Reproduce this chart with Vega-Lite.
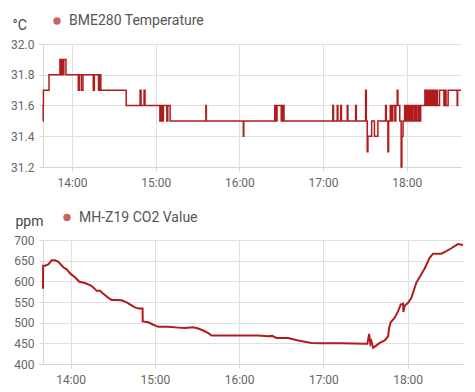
{
  "padding": {"left": 10, "top": 14, "right": 5, "bottom": 5},
  "spacing": 22,
  "config": {
    "font": "Roboto",
    "view": {"stroke": null},
    "axis": {
      "gridColor": "#e0e0e0",
      "domainColor": "#d6d6d6",
      "tickColor": "#d6d6d6",
      "tickSize": 4,
      "labelColor": "#666",
      "labelFontSize": 12
    },
    "legend": {"labelFontSize": 14, "labelColor": "#555"}
  },
  "vconcat": [
    {
      "width": 418,
      "height": 123,
      "data": {"values": [
      {"time": "2021-06-01T13:39:12", "value": 31.5},
      {"time": "2021-06-01T13:39:20", "value": 31.6},
      {"time": "2021-06-01T13:39:30", "value": 31.7},
      {"time": "2021-06-01T13:43:30", "value": 31.8},
      {"time": "2021-06-01T13:51:20", "value": 31.9},
      {"time": "2021-06-01T13:52:00", "value": 31.8},
      {"time": "2021-06-01T13:52:40", "value": 31.9},
      {"time": "2021-06-01T13:53:30", "value": 31.8},
      {"time": "2021-06-01T13:54:10", "value": 31.9},
      {"time": "2021-06-01T13:55:40", "value": 31.8},
      {"time": "2021-06-01T14:04:30", "value": 31.7},
      {"time": "2021-06-01T14:05:10", "value": 31.8},
      {"time": "2021-06-01T14:06:40", "value": 31.7},
      {"time": "2021-06-01T14:07:50", "value": 31.8},
      {"time": "2021-06-01T14:15:15", "value": 31.7},
      {"time": "2021-06-01T14:16:00", "value": 31.8},
      {"time": "2021-06-01T14:19:00", "value": 31.7},
      {"time": "2021-06-01T14:19:40", "value": 31.8},
      {"time": "2021-06-01T14:20:40", "value": 31.7},
      {"time": "2021-06-01T14:38:50", "value": 31.6},
      {"time": "2021-06-01T14:48:50", "value": 31.7},
      {"time": "2021-06-01T14:49:30", "value": 31.6},
      {"time": "2021-06-01T14:51:40", "value": 31.7},
      {"time": "2021-06-01T14:52:20", "value": 31.6},
      {"time": "2021-06-01T15:03:00", "value": 31.5},
      {"time": "2021-06-01T15:04:00", "value": 31.6},
      {"time": "2021-06-01T15:04:40", "value": 31.5},
      {"time": "2021-06-01T15:05:30", "value": 31.6},
      {"time": "2021-06-01T15:08:00", "value": 31.5},
      {"time": "2021-06-01T15:08:40", "value": 31.6},
      {"time": "2021-06-01T15:10:20", "value": 31.5},
      {"time": "2021-06-01T15:36:00", "value": 31.6},
      {"time": "2021-06-01T15:36:20", "value": 31.5},
      {"time": "2021-06-01T16:02:50", "value": 31.4},
      {"time": "2021-06-01T16:03:10", "value": 31.5},
      {"time": "2021-06-01T16:25:20", "value": 31.6},
      {"time": "2021-06-01T16:26:00", "value": 31.5},
      {"time": "2021-06-01T16:27:00", "value": 31.6},
      {"time": "2021-06-01T16:30:00", "value": 31.5},
      {"time": "2021-06-01T16:31:00", "value": 31.6},
      {"time": "2021-06-01T16:32:00", "value": 31.5},
      {"time": "2021-06-01T17:07:00", "value": 31.6},
      {"time": "2021-06-01T17:07:30", "value": 31.5},
      {"time": "2021-06-01T17:10:10", "value": 31.6},
      {"time": "2021-06-01T17:10:40", "value": 31.5},
      {"time": "2021-06-01T17:12:40", "value": 31.6},
      {"time": "2021-06-01T17:13:10", "value": 31.5},
      {"time": "2021-06-01T17:17:20", "value": 31.6},
      {"time": "2021-06-01T17:17:50", "value": 31.5},
      {"time": "2021-06-01T17:23:20", "value": 31.6},
      {"time": "2021-06-01T17:23:50", "value": 31.5},
      {"time": "2021-06-01T17:30:30", "value": 31.7},
      {"time": "2021-06-01T17:31:00", "value": 31.5},
      {"time": "2021-06-01T17:31:40", "value": 31.3},
      {"time": "2021-06-01T17:32:10", "value": 31.4},
      {"time": "2021-06-01T17:34:50", "value": 31.5},
      {"time": "2021-06-01T17:36:50", "value": 31.4},
      {"time": "2021-06-01T17:39:20", "value": 31.5},
      {"time": "2021-06-01T17:44:50", "value": 31.6},
      {"time": "2021-06-01T17:45:20", "value": 31.5},
      {"time": "2021-06-01T17:46:30", "value": 31.3},
      {"time": "2021-06-01T17:47:00", "value": 31.5},
      {"time": "2021-06-01T17:48:10", "value": 31.6},
      {"time": "2021-06-01T17:49:00", "value": 31.5},
      {"time": "2021-06-01T17:50:00", "value": 31.6},
      {"time": "2021-06-01T17:51:30", "value": 31.5},
      {"time": "2021-06-01T17:52:10", "value": 31.6},
      {"time": "2021-06-01T17:53:10", "value": 31.7},
      {"time": "2021-06-01T17:53:40", "value": 31.6},
      {"time": "2021-06-01T17:55:00", "value": 31.5},
      {"time": "2021-06-01T17:56:00", "value": 31.2},
      {"time": "2021-06-01T17:56:30", "value": 31.4},
      {"time": "2021-06-01T17:57:20", "value": 31.5},
      {"time": "2021-06-01T17:58:30", "value": 31.6},
      {"time": "2021-06-01T17:59:30", "value": 31.5},
      {"time": "2021-06-01T18:00:30", "value": 31.6},
      {"time": "2021-06-01T18:01:30", "value": 31.5},
      {"time": "2021-06-01T18:02:30", "value": 31.6},
      {"time": "2021-06-01T18:03:20", "value": 31.5},
      {"time": "2021-06-01T18:04:20", "value": 31.6},
      {"time": "2021-06-01T18:05:30", "value": 31.5},
      {"time": "2021-06-01T18:06:30", "value": 31.6},
      {"time": "2021-06-01T18:07:20", "value": 31.5},
      {"time": "2021-06-01T18:08:30", "value": 31.6},
      {"time": "2021-06-01T18:09:10", "value": 31.5},
      {"time": "2021-06-01T18:10:00", "value": 31.6},
      {"time": "2021-06-01T18:13:00", "value": 31.7},
      {"time": "2021-06-01T18:14:00", "value": 31.6},
      {"time": "2021-06-01T18:15:00", "value": 31.7},
      {"time": "2021-06-01T18:16:00", "value": 31.6},
      {"time": "2021-06-01T18:17:00", "value": 31.7},
      {"time": "2021-06-01T18:18:00", "value": 31.6},
      {"time": "2021-06-01T18:19:00", "value": 31.7},
      {"time": "2021-06-01T18:20:00", "value": 31.6},
      {"time": "2021-06-01T18:21:00", "value": 31.7},
      {"time": "2021-06-01T18:22:00", "value": 31.6},
      {"time": "2021-06-01T18:23:30", "value": 31.7},
      {"time": "2021-06-01T18:26:40", "value": 31.6},
      {"time": "2021-06-01T18:27:20", "value": 31.7},
      {"time": "2021-06-01T18:28:10", "value": 31.6},
      {"time": "2021-06-01T18:29:40", "value": 31.7},
      {"time": "2021-06-01T18:36:10", "value": 31.6},
      {"time": "2021-06-01T18:36:30", "value": 31.7},
      {"time": "2021-06-01T18:38:54", "value": 31.7}
      ]},
      "mark": {"type": "line", "interpolate": "step-after", "strokeWidth": 1.5},
      "encoding": {
        "x": {
          "field": "time", "type": "temporal",
          "axis": {"title": null, "format": "%H:%M", "tickCount": 5, "labelPadding": 6}
        },
        "y": {
          "field": "value", "type": "quantitative",
          "scale": {"domain": [31.2, 32.0], "zero": false},
          "axis": {
            "values": [31.2, 31.4, 31.6, 31.8, 32.0], "format": ".1f", "labelPadding": 5,
            "title": "°C", "titleAngle": 0, "titleAlign": "left", "titleBaseline": "alphabetic",
            "titleX": -31, "titleY": -15, "titleFontSize": 14, "titleFontWeight": "normal", "titleColor": "#444"
          }
        },
        "color": {
          "datum": "BME280 Temperature",
          "scale": {"range": ["#b01c1c"]},
          "legend": {
            "title": null, "orient": "none", "legendX": 7, "legendY": -30, "padding": 0,
            "symbolType": "circle", "symbolSize": 55, "labelOffset": 5,
            "symbolFillColor": "#c86464", "symbolStrokeWidth": 0
          }
        }
      }
    },
    {
      "width": 420,
      "height": 124,
      "data": {"values": [
      {"time": "2021-06-01T13:40:18", "value": 582},
      {"time": "2021-06-01T13:40:24", "value": 638},
      {"time": "2021-06-01T13:41:42", "value": 638},
      {"time": "2021-06-01T13:44:06", "value": 641},
      {"time": "2021-06-01T13:46:30", "value": 651},
      {"time": "2021-06-01T13:48:48", "value": 651},
      {"time": "2021-06-01T13:51:15", "value": 647},
      {"time": "2021-06-01T13:54:48", "value": 634},
      {"time": "2021-06-01T13:57:09", "value": 629},
      {"time": "2021-06-01T14:00:00", "value": 618},
      {"time": "2021-06-01T14:03:04", "value": 610},
      {"time": "2021-06-01T14:06:11", "value": 599},
      {"time": "2021-06-01T14:10:11", "value": 596},
      {"time": "2021-06-01T14:13:44", "value": 591},
      {"time": "2021-06-01T14:15:40", "value": 587},
      {"time": "2021-06-01T14:18:30", "value": 577},
      {"time": "2021-06-01T14:20:51", "value": 577},
      {"time": "2021-06-01T14:23:16", "value": 570},
      {"time": "2021-06-01T14:26:50", "value": 560},
      {"time": "2021-06-01T14:29:11", "value": 555},
      {"time": "2021-06-01T14:32:44", "value": 555},
      {"time": "2021-06-01T14:36:18", "value": 554},
      {"time": "2021-06-01T14:39:51", "value": 549},
      {"time": "2021-06-01T14:43:25", "value": 542},
      {"time": "2021-06-01T14:45:46", "value": 537},
      {"time": "2021-06-01T14:48:37", "value": 534},
      {"time": "2021-06-01T14:51:14", "value": 534},
      {"time": "2021-06-01T14:51:20", "value": 503},
      {"time": "2021-06-01T14:55:18", "value": 501},
      {"time": "2021-06-01T14:58:52", "value": 495},
      {"time": "2021-06-01T15:02:25", "value": 490},
      {"time": "2021-06-01T15:09:32", "value": 490},
      {"time": "2021-06-01T15:16:39", "value": 488},
      {"time": "2021-06-01T15:21:21", "value": 487},
      {"time": "2021-06-01T15:27:18", "value": 489},
      {"time": "2021-06-01T15:30:52", "value": 486},
      {"time": "2021-06-01T15:34:26", "value": 481},
      {"time": "2021-06-01T15:38:00", "value": 475},
      {"time": "2021-06-01T15:40:21", "value": 469},
      {"time": "2021-06-01T15:47:28", "value": 469},
      {"time": "2021-06-01T16:01:42", "value": 469},
      {"time": "2021-06-01T16:13:35", "value": 469},
      {"time": "2021-06-01T16:20:42", "value": 467},
      {"time": "2021-06-01T16:23:33", "value": 468},
      {"time": "2021-06-01T16:26:36", "value": 463},
      {"time": "2021-06-01T16:34:56", "value": 463},
      {"time": "2021-06-01T16:42:03", "value": 457},
      {"time": "2021-06-01T16:51:31", "value": 451},
      {"time": "2021-06-01T16:58:38", "value": 450},
      {"time": "2021-06-01T17:12:52", "value": 450},
      {"time": "2021-06-01T17:29:27", "value": 449},
      {"time": "2021-06-01T17:31:22", "value": 449},
      {"time": "2021-06-01T17:32:35", "value": 473},
      {"time": "2021-06-01T17:33:30", "value": 449},
      {"time": "2021-06-01T17:34:13", "value": 455},
      {"time": "2021-06-01T17:35:26", "value": 439},
      {"time": "2021-06-01T17:37:47", "value": 445},
      {"time": "2021-06-01T17:40:08", "value": 451},
      {"time": "2021-06-01T17:43:42", "value": 457},
      {"time": "2021-06-01T17:46:07", "value": 467},
      {"time": "2021-06-01T17:46:50", "value": 487},
      {"time": "2021-06-01T17:47:59", "value": 501},
      {"time": "2021-06-01T17:50:50", "value": 512},
      {"time": "2021-06-01T17:53:15", "value": 528},
      {"time": "2021-06-01T17:55:06", "value": 544},
      {"time": "2021-06-01T17:56:49", "value": 546},
      {"time": "2021-06-01T17:57:00", "value": 526},
      {"time": "2021-06-01T17:57:56", "value": 541},
      {"time": "2021-06-01T18:00:20", "value": 548},
      {"time": "2021-06-01T18:02:41", "value": 560},
      {"time": "2021-06-01T18:06:14", "value": 597},
      {"time": "2021-06-01T18:09:48", "value": 617},
      {"time": "2021-06-01T18:12:09", "value": 631},
      {"time": "2021-06-01T18:15:43", "value": 657},
      {"time": "2021-06-01T18:18:08", "value": 667},
      {"time": "2021-06-01T18:24:02", "value": 667},
      {"time": "2021-06-01T18:27:36", "value": 673},
      {"time": "2021-06-01T18:31:09", "value": 680},
      {"time": "2021-06-01T18:33:31", "value": 685},
      {"time": "2021-06-01T18:35:54", "value": 690},
      {"time": "2021-06-01T18:39:28", "value": 688}
      ]},
      "mark": {"type": "line", "strokeWidth": 2},
      "encoding": {
        "x": {
          "field": "time", "type": "temporal",
          "axis": {"title": null, "format": "%H:%M", "tickCount": 5, "labelPadding": 6}
        },
        "y": {
          "field": "value", "type": "quantitative",
          "scale": {"domain": [400, 700], "zero": false},
          "axis": {
            "values": [400, 450, 500, 550, 600, 650, 700], "labelPadding": 5,
            "title": "ppm", "titleAngle": 0, "titleAlign": "left", "titleBaseline": "alphabetic",
            "titleX": -28, "titleY": -15, "titleFontSize": 14, "titleFontWeight": "normal", "titleColor": "#444"
          }
        },
        "color": {
          "datum": "MH-Z19 CO2 Value",
          "scale": {"range": ["#b01c1c"]},
          "legend": {
            "title": null, "orient": "none", "legendX": 17, "legendY": -29.5, "padding": 0,
            "symbolType": "circle", "symbolSize": 55, "labelOffset": 5,
            "symbolFillColor": "#c86464", "symbolStrokeWidth": 0
          }
        }
      }
    }
  ],
  "resolve": {"scale": {"color": "independent"}}
}
